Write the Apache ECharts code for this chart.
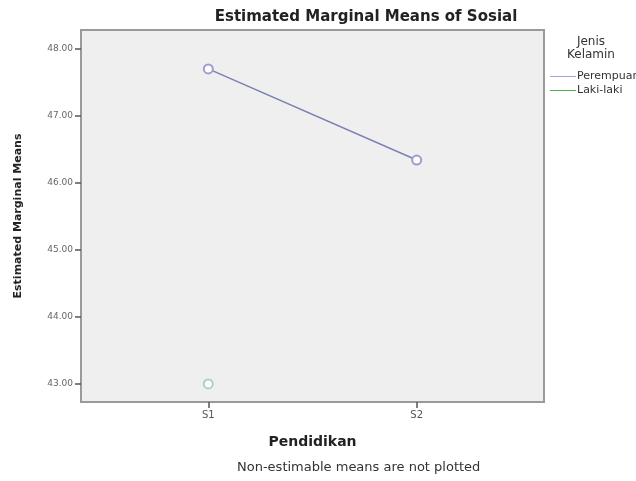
<!DOCTYPE html>
<html>
<head>
<meta charset="utf-8">
<script src="https://cdn.jsdelivr.net/npm/echarts@6/dist/echarts.min.js"></script>
<style>html,body{margin:0;padding:0;background:#fff;}#c{width:636px;height:481px;}</style>
</head>
<body>
<div id="c"></div>
<script>
var categories = ['S1', 'S2'];
var perempuan = [47.70, 46.34];
var lakiLaki = [43.00, null];
var yTicks = [43, 44, 45, 46, 47, 48];
var seriesNames = ['Perempuan', 'Laki-laki'];

function toPoints(arr) {
  var out = [];
  arr.forEach(function (v, i) { if (v !== null) out.push([i + 1, v]); });
  return out;
}
var xTicks = categories.map(function (c, i) { return i + 1; });
var FONT = 'DejaVu Sans, Verdana, sans-serif';

var chart = echarts.init(document.getElementById('c'));
chart.setOption({
  animation: false,
  backgroundColor: '#ffffff',
  textStyle: { fontFamily: FONT },
  title: {
    text: 'Estimated Marginal Means of Sosial',
    left: 361, top: 5, textAlign: 'center',
    textStyle: { fontSize: 15, fontWeight: 'bold', color: '#222', fontFamily: FONT }
  },
  grid: {
    left: 81, top: 30, right: 92, bottom: 79,
    show: true, backgroundColor: '#efefef', borderColor: '#9a9a9a', borderWidth: 2
  },
  legend: {
    orient: 'vertical', left: 545, top: 66,
    itemWidth: 26, itemHeight: 1, itemGap: 3, icon: 'rect',
    itemStyle: { borderWidth: 0 },
    textStyle: { fontSize: 11, color: '#333', padding: [0, 0, 0, -4], fontFamily: FONT },
    data: [
      { name: seriesNames[0], itemStyle: { color: '#b09cd8', borderWidth: 0 } },
      { name: seriesNames[1], itemStyle: { color: '#4caf50', borderWidth: 0 } }
    ]
  },
  xAxis: {
    type: 'value', min: 0.389, max: 2.611,
    name: 'Pendidikan', nameLocation: 'middle', nameGap: 33,
    nameTextStyle: { fontSize: 14, fontWeight: 'bold', color: '#222', fontFamily: FONT },
    axisLine: { show: false },
    splitLine: { show: false },
    axisTick: { show: true, inside: false, length: 6, customValues: xTicks, lineStyle: { color: '#555', width: 1.5 } },
    axisLabel: {
      customValues: xTicks, fontSize: 10, color: '#555', margin: 8, fontFamily: FONT,
      formatter: function (v) { return categories[Math.round(v) - 1] || ''; }
    }
  },
  yAxis: {
    type: 'value', min: 42.73, max: 48.28,
    name: 'Estimated Marginal Means', nameLocation: 'middle', nameRotate: 90, nameGap: 57,
    nameTextStyle: { fontSize: 11, fontWeight: 'bold', color: '#222', fontFamily: FONT },
    axisLine: { show: false },
    splitLine: { show: false },
    axisTick: { show: true, length: 6, customValues: yTicks, lineStyle: { color: '#555', width: 1.5 } },
    axisLabel: {
      customValues: yTicks, fontSize: 9, color: '#666', margin: 8, fontFamily: FONT,
      formatter: function (v) { return v.toFixed(2); }
    }
  },
  graphic: [
    { type: 'text', left: 567, top: 35, style: { text: 'Jenis\nKelamin', fontSize: 12, fill: '#333', textAlign: 'center', lineHeight: 13, fontFamily: FONT } },
    { type: 'text', left: 237, top: 461, style: { text: 'Non-estimable means are not plotted', fontSize: 13, fill: '#333', fontFamily: FONT } }
  ],
  series: [
    {
      name: seriesNames[0], type: 'line', data: toPoints(perempuan),
      symbol: 'emptyCircle', symbolSize: 9,
      lineStyle: { color: '#7c80b4', width: 1.5 },
      itemStyle: { color: '#9c9cd4', borderWidth: 1.5 }
    },
    {
      name: seriesNames[1], type: 'line', data: toPoints(lakiLaki),
      symbol: 'emptyCircle', symbolSize: 9,
      lineStyle: { color: '#5cb85c', width: 1.5 },
      itemStyle: { color: '#a8d4bc', borderWidth: 1.5 }
    }
  ]
});
</script>
</body>
</html>
